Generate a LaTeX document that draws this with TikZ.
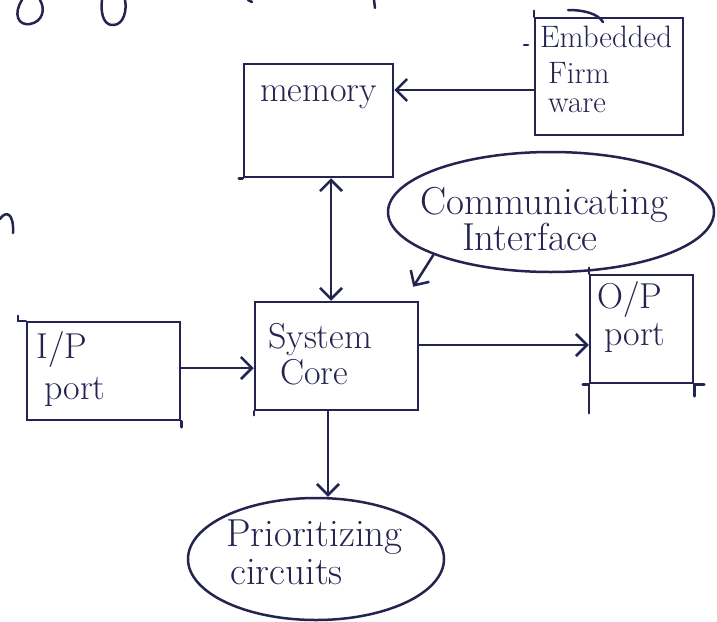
\documentclass[tikz,border=0pt]{standalone}
\usepackage{fontspec}
\usetikzlibrary{arrows.meta,shapes.geometric}
\definecolor{ink}{RGB}{36,36,80}
\tikzset{
  blk/.style={draw=ink, line width=2.5pt, inner sep=0pt},
  oval/.style={ellipse, draw=ink, line width=2.5pt, inner sep=0pt},
  hand/.style={text=ink, font=\fontsize{#1}{#1}\selectfont, inner sep=0pt, anchor=base west},
  hand/.default=30,
  barb/.tip={Straight Barb[length=11pt,width=22pt,line width=2.5pt]},
  arr/.style={draw=ink, line width=2.5pt, -barb},
  arrboth/.style={draw=ink, line width=2.5pt, barb-barb},
  stroke/.style={draw=ink, line width=2.5pt, line cap=round}
}
\begin{document}
\begin{tikzpicture}[x=1pt,y=-1pt]
\fill[white] (0,0) rectangle (717,621);
\useasboundingbox (0,0) rectangle (717,621);

% blocks
\node[blk, minimum width=149pt, minimum height=113pt] (mem)  at (318.5,120.5) {};
\node[blk, minimum width=148pt, minimum height=117pt] (emb)  at (609,76.5) {};
\node[blk, minimum width=163pt, minimum height=108pt] (core) at (336.5,356) {};
\node[blk, minimum width=153pt, minimum height=98pt]  (ip)   at (103.5,371) {};
\node[blk, minimum width=103pt, minimum height=108pt] (op)   at (641.5,329) {};
\node[oval, minimum width=326pt, minimum height=120pt] (comm) at (551,212) {};
\node[oval, minimum width=256pt, minimum height=122pt] (prio) at (316,559) {};

% labels
\node[hand=36] (memtxt)  at (260,101) {memory};
\node[hand=31] (embtxt1) at (540,47)  {Embedded};
\node[hand=31] (embtxt2) at (548,83)  {Firm};
\node[hand=31] (embtxt3) at (548,112) {ware};
\node[hand=39] (commtxt1) at (420,214) {Communicating};
\node[hand=39] (commtxt2) at (462,250) {Interface};
\node[hand=36] (coretxt1) at (268,348) {System};
\node[hand=36] (coretxt2) at (280,384) {Core};
\node[hand=36] (iptxt1)  at (36,358)  {I/P};
\node[hand=36] (iptxt2)  at (44,399)  {port};
\node[hand=36] (optxt1)  at (597,308) {O/P};
\node[hand=36] (optxt2)  at (604,345) {port};
\node[hand=39] (priotxt1) at (226,546) {Prioritizing};
\node[hand=39] (priotxt2) at (230,584) {circuits};

% connectors
\draw[arr] (emb.west |- 0,90) -- (mem.east |- 0,90);
\draw[arrboth] (mem.south -| 331,0) -- (core.north -| 331,0);
\draw[arr] (ip.east |- 0,368) -- (core.west |- 0,368);
\draw[arr] (core.east |- 0,345) -- (op.west |- 0,345);
\draw[arr] (core.south -| 328,0) -- (prio.north -| 328,0);
\draw[arr] (comm.200) -- ([xshift=-6pt,yshift=14pt]core.north east);

% overshooting pen strokes at block corners
\draw[stroke] (op.south west) -- ++(0,29);
\draw[stroke] (op.south east) -- ++(0,12);
\draw[stroke] (op.south west) -- ++(-6,0);
\draw[stroke] (op.south east) -- ++(10,0);
\draw[stroke] (op.north west) -- ++(0,-6);
\draw[stroke] (ip.north west) -- ++(-8,0) -- ++(0,-5);
\draw[stroke] (ip.south east) -- ++(0,6);
\draw[stroke] (mem.south west) -- ++(-4,0);
\draw[stroke] (core.south west) -- ++(0,4);
\draw[stroke] (emb.north west) -- ++(0,-6);

% stray pen marks around the sheet
\draw[stroke] (22,0) .. controls (13,14) and (18,26) .. (30,24) .. controls (42,22) and (46,10) .. (40,0);
\draw[stroke] (102,0) .. controls (100,18) and (106,26) .. (114,25) .. controls (124,24) and (127,10) .. (125,0);
\draw[stroke] (374,0) -- (375,8);
\draw[stroke] (248,0) -- (252,2);
\draw[stroke] (0,219) .. controls (6,210) and (14,213) .. (13,233);
\draw[stroke] (568,10) .. controls (585,10) and (598,14) .. (603,22);
\draw[stroke] (524,45) -- (528,45);
\end{tikzpicture}
\end{document}
